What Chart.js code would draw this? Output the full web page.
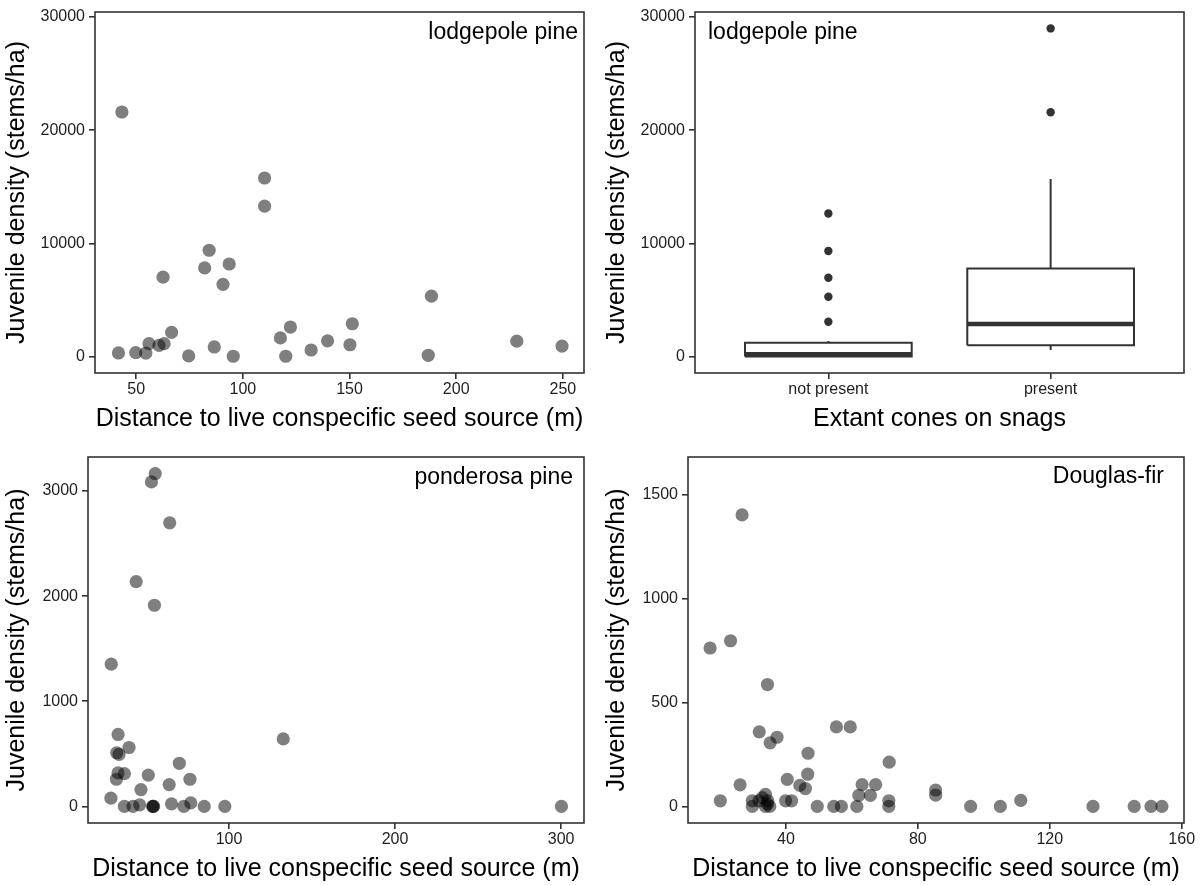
<!DOCTYPE html>
<html lang="en">
<head>
<meta charset="UTF-8">
<title>Juvenile conifer density vs seed source</title>
<script src="https://cdn.jsdelivr.net/npm/chart.js"></script>
<style>
  body { margin: 0; background: #fff; }
  .panel { position: absolute; width: 600px; height: 443px; }
</style>
</head>
<body>

<div class="panel" style="left:0;top:0"><canvas id="lpDist" width="600" height="443"></canvas></div>
<div class="panel" style="left:600px;top:0"><canvas id="lpCones" width="600" height="443"></canvas></div>
<div class="panel" style="left:0;top:443px"><canvas id="ppDist" width="600" height="443"></canvas></div>
<div class="panel" style="left:600px;top:443px"><canvas id="dfDist" width="600" height="443"></canvas></div>

<script>
// lodgepole pine: distance to live seed source (m) and juvenile density (stems/ha)
const lodgepoleDist = [41.7, 43.3, 49.8, 54.5, 56.0, 60.7, 63.1, 62.6, 66.6, 74.6, 82.1, 84.2, 86.6, 90.7, 93.6,
  95.5, 110.2, 110.2, 117.6, 120.1, 122.3, 132.0, 139.7, 150.2, 151.3, 186.9, 188.4, 228.4, 249.6];
const lodgepoleDens = [320, 21600, 348, 300, 1140, 985, 1140, 7015, 2145, 60, 7830, 9390, 850, 6380, 8175,
  30, 15770, 13280, 1650, 30, 2610, 580, 1390, 1045, 2900, 116, 5335, 1360, 930];

// lodgepole pine: density by presence of cones on snags (box summaries + outliers)
const coneCats = ['not present', 'present'];
const coneQ1 = [0, 993];
const coneMedian = [209, 2874];
const coneQ3 = [1220, 7787];
const coneWhiskLo = [0, 584];
const coneWhiskHi = [1380, 15678];
const coneOutliers = [[3083, 5287, 6968, 9320, 12630], [21570, 28980]];

// ponderosa pine
const ponderosaDist = [29.1, 28.9, 33.2, 32.4, 33.8, 33.2, 37.0, 32.2, 39.8, 37.0, 42.2, 44.1, 47.0, 46.2, 51.4,
  53.3, 55.6, 55.1, 54.0, 54.3, 54.6, 64.3, 64.0, 65.4, 70.1, 72.8, 76.5, 77.0, 85.1, 97.5, 132.7, 300.2];
const ponderosaDens = [1353, 78, 684, 510, 495, 318, 311, 258, 560, 0, 0, 2137, 160, 15, 298,
  3086, 3165, 1913, 0, 0, 0, 2697, 207, 24, 410, 0, 258, 33, 0, 0, 642, 0];

// Douglas-fir
const douglasDist = [17.0, 23.2, 26.7, 34.4, 31.9, 37.3, 35.2, 55.3, 59.5, 46.7, 71.3, 46.6, 26.1, 40.4, 44.2,
  45.9, 63.1, 67.2, 62.1, 65.6, 85.4, 85.4, 20.1, 29.8, 31.8, 32.8, 33.8, 34.5, 29.8, 33.8,
  35.1, 34.4, 39.9, 41.7, 71.2, 111.2, 49.5, 54.5, 56.8, 61.5, 71.2, 96.0, 105.0, 133.1, 145.6,
  150.7, 154.0];
const douglasDens = [763, 798, 1404, 587, 359, 333, 306, 383, 383, 256, 213, 155, 104, 130, 101,
  86, 105, 105, 53, 53, 79, 54, 27, 27, 27, 42, 58, 27, 0, 0,
  0, 12, 27, 27, 27, 29, 0, 0, 0, 0, 0, 0, 0, 0, 0,
  0, 0];

// tick positions
const lpDensTicks = [0, 10000, 20000, 30000];
const lpDistTicks = [50, 100, 150, 200, 250];
const coneTicks = [1, 2];
const ppDensTicks = [0, 1000, 2000, 3000];
const ppDistTicks = [100, 200, 300];
const dfDensTicks = [0, 500, 1000, 1500];
const dfDistTicks = [40, 80, 120, 160];

const FONT = '"Liberation Sans", Arial, Helvetica, sans-serif';
const INK = '#333333';
const DOT = 'rgba(0,0,0,0.5)';
const BOX_HALF = 0.375;
const Y_TITLE = 'Juvenile density (stems/ha)';
const X_TITLE = 'Distance to live conspecific seed source (m)';

// box around the plotting panel
const panelFrame = {
  id: 'panelFrame',
  afterDatasetsDraw(chart) {
    const a = chart.chartArea, ctx = chart.ctx;
    ctx.save();
    ctx.strokeStyle = INK;
    ctx.lineWidth = 1.6;
    ctx.strokeRect(a.left, a.top, a.right - a.left, a.bottom - a.top);
    ctx.restore();
  }
};

// species name in the panel corner
const panelLabel = {
  id: 'panelLabel',
  afterDraw(chart, args, o) {
    const a = chart.chartArea, ctx = chart.ctx;
    ctx.save();
    ctx.font = '23px ' + FONT;
    ctx.fillStyle = '#000';
    ctx.textAlign = o.align;
    ctx.textBaseline = 'alphabetic';
    const x = o.align === 'right' ? a.right - o.dx : a.left + o.dx;
    ctx.fillText(o.text, x, a.top + o.dy);
    ctx.restore();
  }
};

function axis(min, max, ticks, title, fmt) {
  return {
    type: 'linear',
    min: min,
    max: max,
    afterBuildTicks: s => { s.ticks = ticks.map(v => ({ value: v })); },
    grid: { display: true, drawOnChartArea: false, drawTicks: true, tickLength: 6,
            tickWidth: 1.6, lineWidth: 1.6, tickColor: INK },
    border: { display: false },
    ticks: { font: { family: FONT, size: 16, lineHeight: 1 }, color: '#1e1e1e', padding: 3,
             maxRotation: 0, autoSkip: false, callback: fmt || (v => String(v)) },
    title: { display: true, text: title, color: '#000',
             font: { family: FONT, size: 25, lineHeight: 1 } }
  };
}

function xAxis(min, max, ticks, title, h, pb, fmt) {
  const s = axis(min, max, ticks, title, fmt);
  s.afterFit = sc => { sc.height = h; };
  s.title.padding = { top: 0, bottom: pb };
  return s;
}

function yAxis(min, max, ticks, w) {
  const s = axis(min, max, ticks, Y_TITLE);
  s.afterFit = sc => { sc.width = w; };
  s.ticks.padding = 4;
  s.title.padding = { top: 5, bottom: 0 };
  return s;
}

function points(xs, ys, color, r) {
  return {
    data: xs.map((x, i) => ({ x: x, y: ys[i] })),
    pointRadius: r, pointHoverRadius: r,
    pointBackgroundColor: color, pointBorderWidth: 0, pointBorderColor: 'rgba(0,0,0,0)'
  };
}

function segment(pts, w) {
  return {
    data: pts, showLine: true, borderColor: INK, borderWidth: w,
    pointRadius: 0, fill: false, tension: 0
  };
}

function panel(id, datasets, x, y, pad, label) {
  return new Chart(document.getElementById(id), {
    type: 'scatter',
    data: { datasets: datasets },
    options: {
      responsive: false, animation: false, devicePixelRatio: 1,
      layout: { padding: pad },
      scales: { x: x, y: y },
      plugins: { legend: { display: false }, tooltip: { enabled: false }, panelLabel: label }
    },
    plugins: [panelFrame, panelLabel]
  });
}

const padTop = { top: 7, right: 16, bottom: 0, left: 0 };
const padBottom = { top: 14, right: 16, bottom: 0, left: 0 };

// top left: lodgepole pine scatter
panel('lpDist',
  [points(lodgepoleDist, lodgepoleDens, DOT, 6.6)],
  xAxis(30.7, 259.9, lpDistTicks, X_TITLE, 70, 11),
  yAxis(-1449, 30429, lpDensTicks, 95),
  padTop, { text: 'lodgepole pine', align: 'right', dx: 6, dy: 27 });

// top right: box plots of density by cone presence
const boxSets = [];
coneCats.forEach((c, i) => {
  const cx = i + 1;
  boxSets.push(segment([{ x: cx, y: coneQ3[i] }, { x: cx, y: coneWhiskHi[i] }], 2));
  boxSets.push(segment([{ x: cx, y: coneWhiskLo[i] }, { x: cx, y: coneQ1[i] }], 2));
  boxSets.push(segment([
    { x: cx - BOX_HALF, y: coneQ1[i] }, { x: cx + BOX_HALF, y: coneQ1[i] },
    { x: cx + BOX_HALF, y: coneQ3[i] }, { x: cx - BOX_HALF, y: coneQ3[i] },
    { x: cx - BOX_HALF, y: coneQ1[i] }], 2));
  boxSets.push(segment([{ x: cx - BOX_HALF, y: coneMedian[i] }, { x: cx + BOX_HALF, y: coneMedian[i] }], 4.5));
  boxSets.push(points(coneOutliers[i].map(() => cx), coneOutliers[i], INK, 4.2));
});
panel('lpCones', boxSets,
  xAxis(0.4, 2.6, coneTicks, 'Extant cones on snags', 70, 11, v => coneCats[v - 1]),
  yAxis(-1449, 30429, lpDensTicks, 95),
  padTop, { text: 'lodgepole pine', align: 'left', dx: 13, dy: 27 });

// bottom left: ponderosa pine
panel('ppDist',
  [points(ponderosaDist, ponderosaDens, DOT, 6.6)],
  xAxis(15.1, 313.8, ppDistTicks, X_TITLE, 63, 4),
  yAxis(-158, 3323, ppDensTicks, 88),
  padBottom, { text: 'ponderosa pine', align: 'right', dx: 11, dy: 26.5 });

// bottom right: Douglas-fir
panel('dfDist',
  [points(douglasDist, douglasDens, DOT, 6.6)],
  xAxis(10.3, 160.7, dfDistTicks, X_TITLE, 63, 4),
  yAxis(-80, 1683, dfDensTicks, 88),
  padBottom, { text: 'Douglas-fir', align: 'right', dx: 20, dy: 26 });
</script>
</body>
</html>
